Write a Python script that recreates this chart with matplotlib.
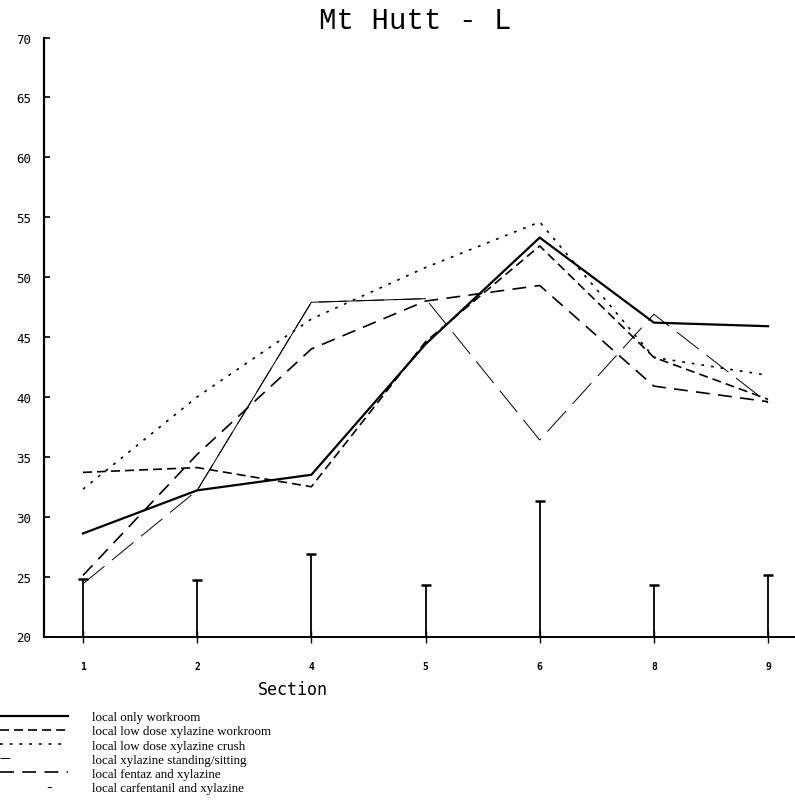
import numpy as np
import matplotlib
matplotlib.use('Agg')
import matplotlib.pyplot as plt
from matplotlib.lines import Line2D

# values (section means), nan = no point drawn
sections = ['1', '2', '4', '5', '6', '8', '9']
local_only_workroom = [28.6, 32.2, 33.5, 44.4, 53.3, 46.2, 45.9]
low_dose_workroom = [33.7, 34.1, 32.5, 44.6, 52.6, 43.3, 39.8]
low_dose_crush = [32.3, 40.0, 46.5, 50.8, 54.6, 43.3, 41.8]
standing_sitting = [np.nan, 32.2, 47.9, 48.2, np.nan, np.nan, np.nan]
fentaz_xylazine = [25.1, 35.2, 44.0, 48.0, 49.3, 40.9, 39.6]
carfentanil_xylazine = [24.4, 32.2, 47.9, 48.2, 36.4, 46.9, 39.5]
lsd_bars = [24.8, 24.7, 26.9, 24.3, 31.3, 24.3, 25.1]

labels = ['local only workroom',
          'local low dose xylazine workroom',
          'local low dose xylazine crush',
          'local xylazine standing/sitting',
          'local fentaz and xylazine',
          'local carfentanil and xylazine']

plt.rcParams['lines.scale_dashes'] = False
mono = 'DejaVu Sans Mono'

fig = plt.figure(figsize=(7.95, 8.04), dpi=100)
ax = fig.add_axes([44/795, 166.5/804, 751/795, 599/804])

x = np.arange(len(sections))
k = 'black'
ax.plot(x, local_only_workroom, color=k, lw=1.6, solid_joinstyle='miter')
ax.plot(x, low_dose_workroom, color=k, lw=1.2, linestyle=(0, (6.5, 3.6)))
ax.plot(x, low_dose_crush, color=k, lw=1.2, linestyle=(0, (2, 5)))
ax.plot(x, standing_sitting, color=k, lw=0.7)
ax.plot(x, fentaz_xylazine, color=k, lw=1.2, linestyle=(0, (10, 6)))
ax.plot(x, carfentanil_xylazine, color=k, lw=0.7, linestyle=(0, (20, 7)))

# LSD style bars standing on the axis
ax.vlines(x, 20, lsd_bars, color=k, lw=1.3)
ax.plot(x, lsd_bars, linestyle='none', marker='_', markersize=7.5, mew=1.8, color=k)

ax.set_xlim(-0.3415, 6.236)
ax.set_ylim(20, 70)
ax.set_xticks(x)
ax.set_xticklabels(sections, fontfamily=mono, fontsize=7, fontweight='bold')
ax.set_yticks(np.arange(20, 71, 5))
ax.set_yticklabels([str(v) for v in range(20, 71, 5)], fontfamily=mono, fontsize=9)
ax.tick_params(axis='x', direction='inout', length=8.6, width=1.0, pad=13)
ax.tick_params(axis='y', direction='in', length=4.3, width=1.2, pad=9)

for s in ['top', 'right']:
    ax.spines[s].set_visible(False)
ax.spines['left'].set_linewidth(1.6)
ax.spines['bottom'].set_linewidth(1.4)

ax.set_xlabel('Section', fontfamily=mono, fontsize=12)
ax.xaxis.set_label_coords(0.332, -0.072)

fig.text(0.522, 1 - 29/804, 'Mt Hutt - L', ha='center', va='baseline',
         fontfamily='Liberation Mono', fontsize=21)

# legend samples copied from the printed key
handles = [Line2D([], [], color=k, lw=1.6),
           Line2D([], [], color=k, lw=1.2, linestyle=(0, (6.5, 3.6))),
           Line2D([], [], color=k, lw=1.2, linestyle=(0, (2, 5))),
           Line2D([], [], color=k, lw=0.7, linestyle=(0, (7, 200))),
           Line2D([], [], color=k, lw=1.2, linestyle=(0, (10, 6))),
           Line2D([], [], color=k, lw=0.7, linestyle=(0, (0.01, 34, 3, 200)))]
fig.legend(handles, labels, loc='upper left', bbox_to_anchor=(0, 1 - 712/804),
           frameon=False, borderpad=0, borderaxespad=0, handlelength=5.2,
           handletextpad=1.85, labelspacing=0.16,
           prop={'family': 'Liberation Serif', 'size': 9.4})

fig.savefig('out.png', dpi=100)
